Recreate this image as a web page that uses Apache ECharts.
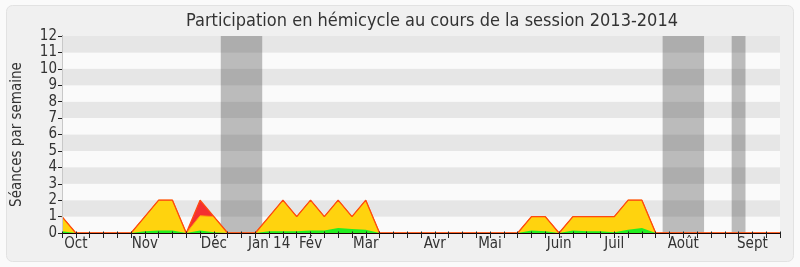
<!DOCTYPE html>
<html>
<head>
<meta charset="utf-8">
<script src="https://cdn.jsdelivr.net/npm/echarts@6/dist/echarts.min.js"></script>
<style>
html,body{margin:0;padding:0;background:#fafafa;}
#c{width:800px;height:267px;}
</style>
</head>
<body>
<div id="c"></div>
<script>
// Week index 0..52 (session 2013-2014)
const weeks = Array.from({length: 53}, (_, i) => i);
// Month tick labels and the week index where each is drawn
const monthLabels = ['Oct','Nov','Déc','Jan 14','Fév','Mar','Avr','Mai','Juin','Juil','Août','Sept'];
const monthWeek   = [1, 6, 11, 15, 18, 22, 27, 31, 36, 40, 45, 50];
// Holiday (vacances) ranges, in week units
const holidayStart = [11.5, 43.5, 48.5];
const holidayEnd   = [14.5, 46.5, 49.5];
// Stacked series values per week
const green  = [0.1,0,0,0,0,0,0.1,0.15,0.15,0,0.15,0.05,0,0,0,0.1,0.1,0.1,0.15,0.15,0.3,0.25,0.2,0,0,0,0,0,0,0,0,0,0,0,0.15,0.1,0,0.15,0.1,0.1,0.05,0.2,0.3,0,0,0,0,0,0,0,0,0,0];
const yellow = [0.9,0,0,0,0,0,0.9,1.85,1.85,0,0.9,0.95,0,0,0,0.9,1.9,0.9,1.85,0.85,1.7,0.75,1.8,0,0,0,0,0,0,0,0,0,0,0,0.85,0.9,0,0.85,0.9,0.9,0.95,1.8,1.7,0,0,0,0,0,0,0,0,0,0];
const red    = [0,0,0,0,0,0,0,0,0,0,0.95,0,0,0,0,0,0,0,0,0,0,0,0,0,0,0,0,0,0,0,0,0,0,0,0,0,0,0,0,0,0,0,0,0,0,0,0,0,0,0,0,0,0];

const F = "'DejaVu Sans Condensed','DejaVu Sans',sans-serif";
// cumulative levels (stack built from the arrays)
const lvlGreen  = weeks.map(i => [i, green[i]]);
const lvlYellow = weeks.map(i => [i, +(green[i] + yellow[i]).toFixed(3)]);
const lvlTotal  = weeks.map(i => [i, +(green[i] + yellow[i] + red[i]).toFixed(3)]);
const labelMap = {};
monthWeek.forEach((w, k) => { labelMap[w] = monthLabels[k]; });

const chart = echarts.init(document.getElementById('c'), null, {renderer: 'canvas'});
chart.setOption({
  animation: false,
  backgroundColor: '#fafafa',
  graphic: [{
    type: 'rect', z: -10, silent: true,
    shape: {x: 6.5, y: 5.5, width: 787, height: 256, r: 6},
    style: {fill: '#f0f0f0', stroke: '#e2e2e2', lineWidth: 1}
  }],
  title: {
    text: 'Participation en hémicycle au cours de la session 2013-2014',
    left: 427, top: 7, textAlign: 'center',
    textStyle: {fontFamily: F, fontSize: 18, fontWeight: 'normal', color: '#333'}
  },
  grid: {left: 62, right: 20, top: 36, bottom: 34, containLabel: false},
  xAxis: [{
    type: 'value', min: 0, max: 52, interval: 1, z: 10,
    axisLine: {show: true, lineStyle: {color: '#1a0000', width: 1}},
    axisTick: {show: true, length: 5, lineStyle: {color: '#222'}},
    axisLabel: {
      show: true, interval: 0, margin: 4, fontFamily: F, fontSize: 15, color: '#333',
      formatter: v => labelMap[v] || ''
    },
    splitLine: {show: false}
  }, {
    type: 'value', min: 0, max: 52, interval: 1, position: 'top', z: 10,
    axisLine: {show: false},
    axisTick: {show: true, length: 1.5, inside: false, lineStyle: {color: '#222'}},
    axisLabel: {show: false},
    splitLine: {show: false}
  }],
  yAxis: [{
    type: 'value', min: 0, max: 12, interval: 1,
    name: 'Séances par semaine', nameLocation: 'middle', nameGap: 37, nameRotate: 90,
    nameTextStyle: {fontFamily: F, fontSize: 15, color: '#333'},
    axisLine: {show: true, lineStyle: {color: '#000'}},
    axisTick: {show: true, length: 4, lineStyle: {color: '#222'}},
    axisLabel: {fontFamily: F, fontSize: 15, color: '#333', margin: 5},
    splitLine: {show: false},
    splitArea: {show: true, areaStyle: {color: ['#fafafa', '#e6e6e6']}}
  }, {
    type: 'value', min: 0, max: 12, interval: 1, position: 'right', z: 10,
    axisLine: {show: true, lineStyle: {color: '#c8c8c8'}},
    axisTick: {show: false}, axisLabel: {show: false}, splitLine: {show: false}, splitArea: {show: false}
  }],
  series: [{
    name: 'rouge', type: 'line', data: lvlTotal, z: 2,
    showSymbol: false, symbol: 'none',
    lineStyle: {width: 0},
    areaStyle: {color: '#f43030', opacity: 1},
    markArea: {
      silent: true,
      itemStyle: {color: 'rgba(43,43,43,0.3)'},
      data: holidayStart.map((s, k) => [{xAxis: s}, {xAxis: holidayEnd[k]}])
    }
  }, {
    name: 'jaune', type: 'line', data: lvlYellow, z: 3,
    showSymbol: false, symbol: 'none',
    lineStyle: {width: 1, color: '#ff9a10'},
    areaStyle: {color: '#ffd30e', opacity: 1}
  }, {
    name: 'vert', type: 'line', data: lvlGreen, z: 4,
    showSymbol: false, symbol: 'none',
    lineStyle: {width: 0},
    areaStyle: {color: '#22ee22', opacity: 1}
  }, {
    name: 'total', type: 'line', data: lvlTotal, z: 5,
    showSymbol: false, symbol: 'none',
    lineStyle: {width: 1.3, color: '#ff4a10'}
  }]
});
</script>
</body>
</html>
